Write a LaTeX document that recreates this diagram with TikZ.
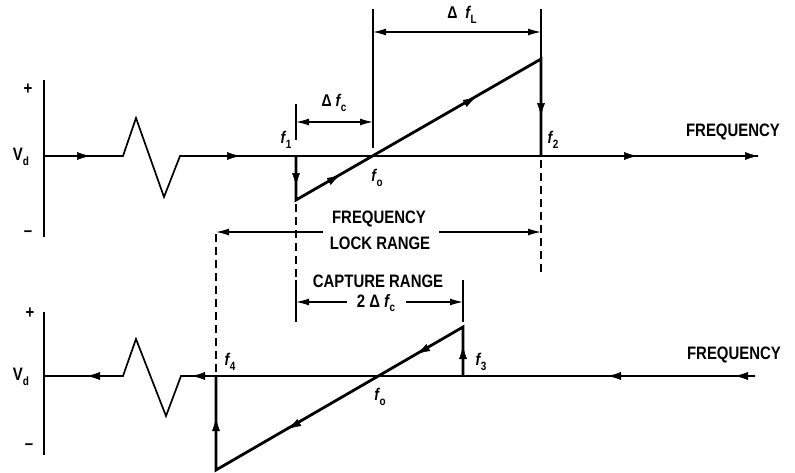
\documentclass[tikz,border=0pt]{standalone}
\usepackage{fontspec}
\setmainfont{Liberation Sans}[FakeStretch=0.83]
\usetikzlibrary{arrows.meta,calc}
\newcommand{\fsub}[1]{{\itshape f}\kern0.5pt\raisebox{-0.5ex}{\fontsize{12}{12}\selectfont #1}}
\newcommand{\headat}[2]{\draw[headtip] ($(#1)-(#2)$) -- (#1);}
\begin{document}
\begin{tikzpicture}[x=1pt,y=-1pt,
  axis/.style={line width=1.7pt, line join=miter},
  ramp/.style={line width=2.8pt, line join=miter},
  dim/.style={line width=1.3pt},
  dashln/.style={line width=1.3pt, dash pattern=on 8pt off 5pt},
  headtip/.style={line width=0.5pt, -{Latex[length=13pt,width=8pt]}},
  dimtip/.style={dim, -{Latex[length=13pt,width=7pt]}},
  lbl/.style={font=\fontsize{18}{19}\selectfont\bfseries, inner sep=0pt},
  flbl/.style={font=\fontsize{17}{19}\selectfont\bfseries, inner sep=0pt}]
\useasboundingbox (0,0) rectangle (795,472);

% ---------------- top plot ----------------
\draw[axis] (44,80) -- (44,237);
\node[lbl] (plusA) at (28,89) {+};
\node[lbl] (minusA) at (28,234) {–};
\node[lbl] (vdA) at (21,157) {V\raisebox{-0.5ex}{\fontsize{12}{12}\selectfont d}};
\draw[axis] (44,156) -- (123,156) -- (136,118) -- (164,197) -- (180,156) -- (758,156);
\draw[headtip] (748,156) -- (758,156);
\headat{90,156}{1,0}
\headat{240,156}{1,0}
\headat{637,156}{1,0}
\node[lbl] (freqA) at (733,132) {FREQUENCY};

% ramp
\draw[ramp] (296,156) -- (296,200) -- (541,59) -- (541,156);
\headat{296,186}{0,1}
\headat{541,116}{0,1}
\headat{340,175}{0.867,-0.499}
\headat{476,97}{0.867,-0.499}
\node[flbl] (f1) at (286,140) {\fsub{1}};
\node[flbl] (f2) at (553,140) {\fsub{2}};
\node[flbl] (f0A) at (377,178) {\fsub{o}};

% delta f_c / delta f_L
\draw[dim] (296,104) -- (296,140);
\draw[dim] (373,9) -- (373,148);
\draw[dim] (541,9) -- (541,59);
\draw[dim, {Latex[length=13pt,width=7pt]}-{Latex[length=13pt,width=7pt]}] (296,122) -- (373,122);
\draw[dim, {Latex[length=13pt,width=7pt]}-{Latex[length=13pt,width=7pt]}] (373,32) -- (541,32);
\node[flbl] (dfc) at (334,103) {Δ \fsub{c}};
\node[flbl] (dfl) at (462,15) {Δ\ \ \fsub{L}};

% dashed guide lines
\draw[dashln] (296,204) -- (296,280);
\draw[dim] (296,280) -- (296,322);
\draw[dashln] (541,160) -- (541,274);
\draw[dashln] (216,234) -- (216,374);

% lock range
\node[lbl] (lockA) at (379,219) {FREQUENCY};
\node[lbl] (lockB) at (380,243) {LOCK RANGE};
\draw[dimtip] (323,232) -- (216,232);
\draw[dimtip] (439,232) -- (541,232);

% capture range
\node[lbl] (capA) at (378,281) {CAPTURE RANGE};
\node[lbl] (capB) at (376,303) {2 Δ \fsub{c}};
\draw[dim] (463,280) -- (463,322);
\draw[dimtip] (347,302) -- (296,302);
\draw[dimtip] (406,302) -- (463,302);

% ---------------- bottom plot ----------------
\draw[axis] (44,312) -- (44,455);
\node[lbl] (plusB) at (30,313) {+};
\node[lbl] (minusB) at (29,447) {–};
\node[lbl] (vdB) at (21,377) {V\raisebox{-0.5ex}{\fontsize{12}{12}\selectfont d}};
\draw[axis] (755,376) -- (181,376) -- (166,416) -- (136,339) -- (123,376) -- (44,376);
\headat{735,376}{-1,0}
\headat{608,376}{-1,0}
\headat{192,376}{-1,0}
\headat{87,376}{-1,0}
\node[lbl] (freqB) at (734,355) {FREQUENCY};

\draw[ramp] (463,376) -- (463,327) -- (216,470) -- (216,376);
\headat{463,346}{0,-1}
\headat{216,418}{0,-1}
\headat{417,354}{-0.866,0.501}
\headat{288,429}{-0.866,0.501}
\node[flbl] (f4) at (230,362) {\fsub{4}};
\node[flbl] (f3) at (481,362) {\fsub{3}};
\node[flbl] (f0B) at (380,397) {\fsub{o}};
\end{tikzpicture}
\end{document}
